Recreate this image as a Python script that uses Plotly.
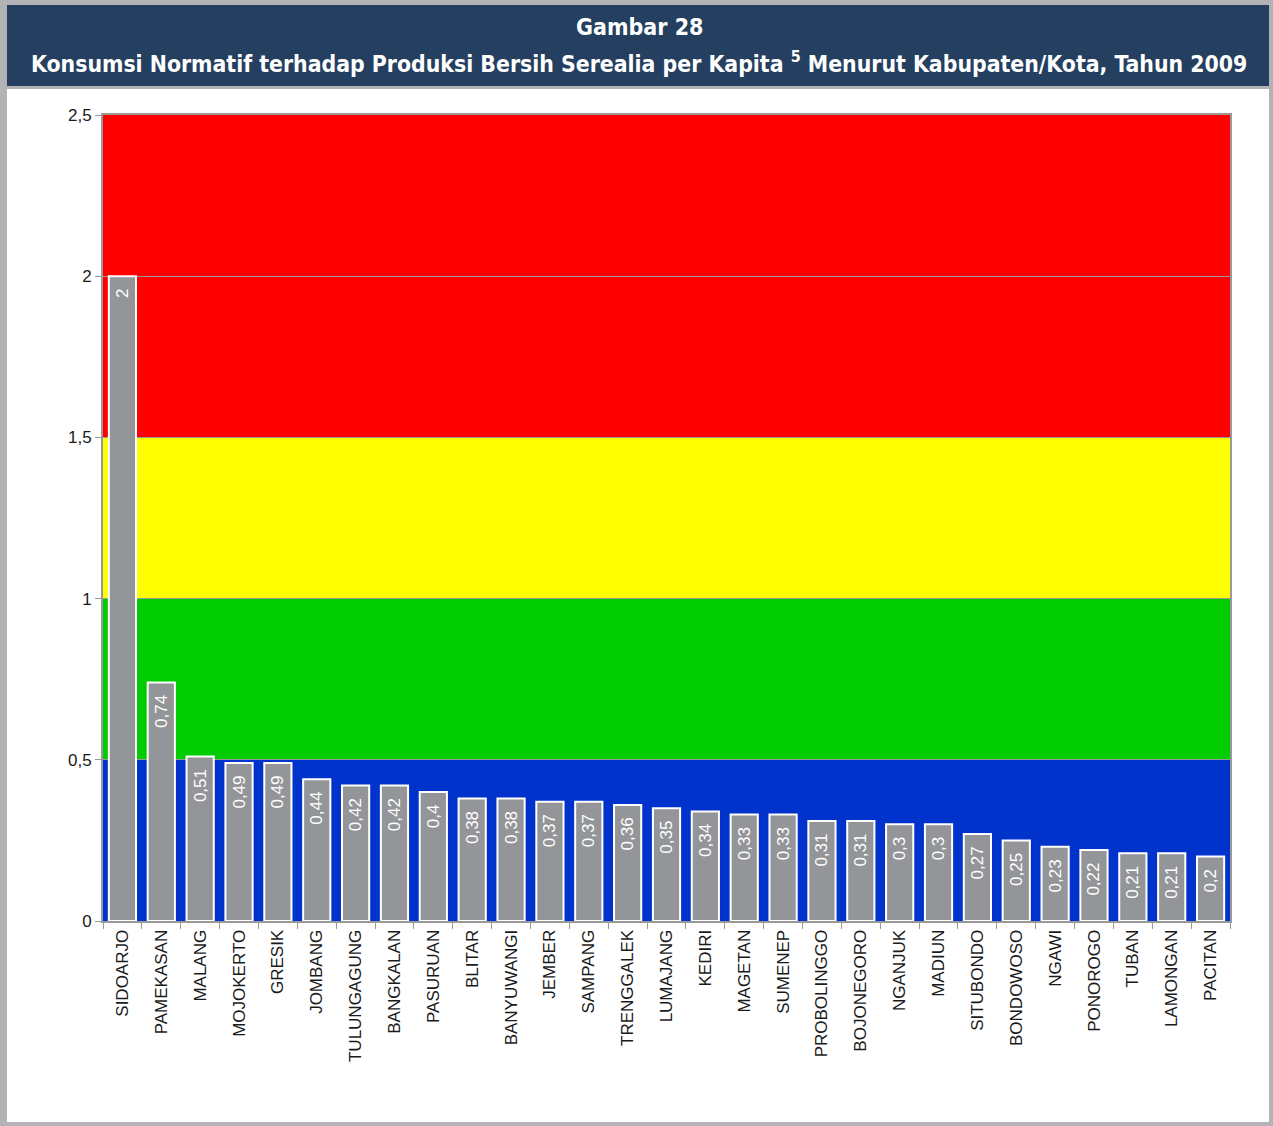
import plotly.graph_objects as go

categories = ["SIDOARJO", "PAMEKASAN", "MALANG", "MOJOKERTO", "GRESIK", "JOMBANG",
              "TULUNGAGUNG", "BANGKALAN", "PASURUAN", "BLITAR", "BANYUWANGI", "JEMBER",
              "SAMPANG", "TRENGGALEK", "LUMAJANG", "KEDIRI", "MAGETAN", "SUMENEP",
              "PROBOLINGGO", "BOJONEGORO", "NGANJUK", "MADIUN", "SITUBONDO", "BONDOWOSO",
              "NGAWI", "PONOROGO", "TUBAN", "LAMONGAN", "PACITAN"]
values = [2, 0.74, 0.51, 0.49, 0.49, 0.44, 0.42, 0.42, 0.4, 0.38, 0.38, 0.37, 0.37,
          0.36, 0.35, 0.34, 0.33, 0.33, 0.31, 0.31, 0.3, 0.3, 0.27, 0.25, 0.23, 0.22,
          0.21, 0.21, 0.2]
band_edges = [0, 0.5, 1, 1.5, 2.5]
band_colors = ["#0033cc", "#00cc00", "#ffff00", "#ff0000"]
y_ticks = [0, 0.5, 1, 1.5, 2, 2.5]
title_line1 = "Gambar 28"
title_line2 = "Konsumsi Normatif terhadap Produksi Bersih Serealia per Kapita <sup>5</sup> Menurut Kabupaten/Kota, Tahun 2009"

# trailing non-breaking spaces push the rotated label a little below the bar top
labels = [("%g" % v).replace(".", ",") + "\u00a0\u00a0" for v in values]

W, H = 1273, 1126
L, R, T, B = 103, 43, 115, 205
pw, ph = W - L - R, H - T - B

def px(x):
    return (x - L) / pw

def py(y):
    return (H - B - y) / ph

fig = go.Figure()
fig.add_trace(go.Bar(
    x=categories, y=values, text=labels,
    textposition="inside", insidetextanchor="end", textangle=-90,
    textfont=dict(family="Liberation Sans, Arial", size=17, color="white"),
    marker=dict(color="#939598", line=dict(color="white", width=2)),
    cliponaxis=False,
))

shapes = []
shapes.append(dict(type="rect", xref="paper", yref="paper", x0=px(7), x1=px(1269), y0=py(1122), y1=py(89),
                   fillcolor="white", line=dict(width=0), layer="below"))
shapes.append(dict(type="rect", xref="paper", yref="paper", x0=px(7), x1=px(1269), y0=py(86), y1=py(5),
                   fillcolor="#243f60", line=dict(width=0), layer="below"))
for i in range(len(band_colors)):
    shapes.append(dict(type="rect", xref="paper", yref="y", x0=0, x1=1,
                       y0=band_edges[i], y1=band_edges[i + 1],
                       fillcolor=band_colors[i], line=dict(width=0), layer="below"))

title_font = "DejaVu Sans Condensed, DejaVu Sans"
fig.update_layout(
    width=W, height=H,
    margin=dict(l=L, r=R, t=T, b=B),
    paper_bgcolor="#b3b3b6",
    plot_bgcolor="rgba(0,0,0,0)",
    separators=",.",
    showlegend=False,
    bargap=0.3,
    shapes=shapes,
    xaxis=dict(
        tickangle=-90, tickson="boundaries", ticks="outside", ticklen=6, tickcolor="#999999",
        showline=True, linecolor="#999999", linewidth=2, mirror=True,
        tickfont=dict(family="Liberation Sans, Arial", size=17, color="#1a1a1a"),
        showgrid=False, fixedrange=True,
    ),
    yaxis=dict(
        range=[0, 2.5], tickvals=y_ticks, ticks="outside", ticklen=6, tickcolor="#999999",
        showline=True, linecolor="#999999", linewidth=2, mirror=True,
        showgrid=True, gridcolor="#999999", gridwidth=1, zeroline=False,
        tickfont=dict(family="Liberation Sans, Arial", size=17, color="#1a1a1a"),
    ),
    annotations=[
        dict(text=title_line1, xref="paper", yref="paper", x=px(639), y=py(27),
             showarrow=False, xanchor="center", yanchor="middle",
             font=dict(family=title_font, size=23, color="white", weight=600)),
        dict(text=title_line2, xref="paper", yref="paper", x=px(639), y=py(62),
             showarrow=False, xanchor="center", yanchor="middle",
             font=dict(family=title_font, size=22.8, color="white", weight=600)),
    ],
)

fig.write_html("out.html")
